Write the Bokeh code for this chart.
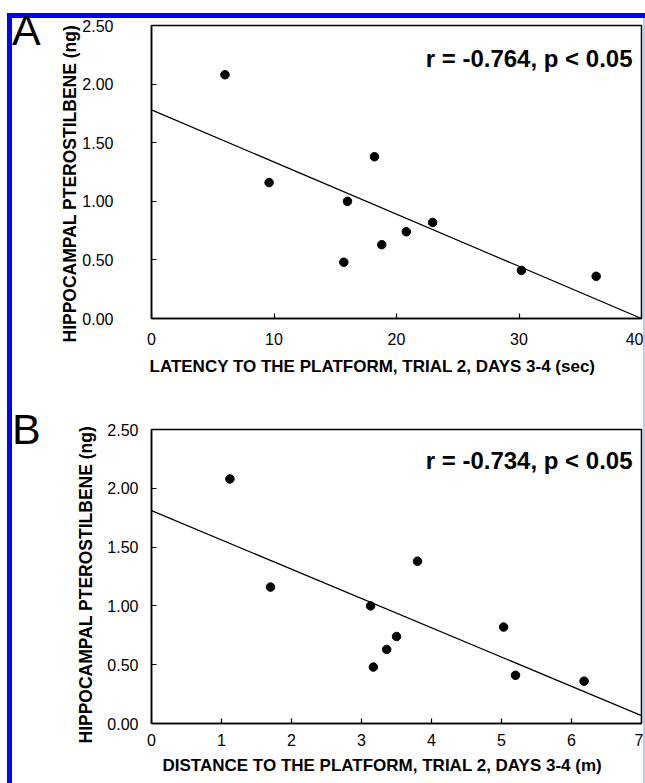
from bokeh.plotting import figure
from bokeh.models import Range1d, FixedTicker, PrintfTickFormatter, Label, Div, Spacer, Title
from bokeh.layouts import column, row
from bokeh.embed import file_html
from bokeh.resources import INLINE

# ---- data ----
latency_sec = [6.0, 9.6, 16.0, 18.2, 15.7, 18.8, 20.8, 22.95, 30.2, 36.3]
distance_m = [1.12, 1.70, 3.13, 3.80, 3.17, 3.36, 3.50, 5.03, 5.20, 6.18]
pterostilbene_ng = [2.08, 1.16, 1.00, 1.38, 0.48, 0.63, 0.74, 0.82, 0.41, 0.36]

fit_a_x = [0, 40]
fit_a_intercept, fit_a_slope = 1.78, -0.0445
fit_b_x = [0, 7]
fit_b_intercept, fit_b_slope = 1.81, -0.249

y_ticks = [0.0, 0.5, 1.0, 1.5, 2.0, 2.5]
x_ticks_a = [0, 10, 20, 30, 40]
x_ticks_b = [0, 1, 2, 3, 4, 5, 6, 7]

y_label = "HIPPOCAMPAL PTEROSTILBENE (ng)"
x_label_a = "LATENCY TO THE PLATFORM, TRIAL 2, DAYS 3-4 (sec)"
x_label_b = "DISTANCE TO THE PLATFORM, TRIAL 2, DAYS 3-4 (m)"
stat_a = "r = -0.764, p < 0.05"
stat_b = "r = -0.734, p < 0.05"

FONT = "Liberation Sans"
BLUE = "#0000ff"
LETTER_W = 40
FIG_W = 591
FRAME_W = 490


def panel(xs, ys, xmax, xticks, fit_x, b0, b1, xlabel, stat, height, top,
          bottom, frame_h, ystand, ylab_stand, ylab_off, xstand, title_off,
          title_stand, stat_off):
    p = figure(width=FIG_W, height=height, output_backend="svg",
               toolbar_location=None, x_range=Range1d(0, xmax),
               y_range=Range1d(0, 2.5), min_border_left=99,
               min_border_right=2, min_border_top=top,
               min_border_bottom=bottom)
    p.xgrid.visible = False
    p.ygrid.visible = False
    p.outline_line_color = "black"
    p.outline_line_width = 1.5
    p.background_fill_color = "white"
    p.border_fill_color = "white"

    for ax in (p.xaxis[0], p.yaxis[0]):
        ax.axis_line_color = "black"
        ax.axis_line_width = 1.5
        ax.major_tick_in = 5
        ax.major_tick_out = 0
        ax.major_tick_line_color = "black"
        ax.major_tick_line_width = 1.2
        ax.minor_tick_line_color = None
        ax.major_label_text_font = FONT
        ax.major_label_text_font_size = "16px"
        ax.major_label_text_color = "black"

    p.xaxis.ticker = FixedTicker(ticks=xticks)
    p.xaxis.major_label_standoff = xstand

    p.yaxis.ticker = FixedTicker(ticks=y_ticks)
    p.yaxis.formatter = PrintfTickFormatter(format="%.2f")
    p.yaxis.major_label_standoff = ystand

    p.add_layout(Title(text=y_label, align="left", offset=ylab_off,
                       standoff=ylab_stand, text_font=FONT,
                       text_font_style="bold", text_font_size="17.5px",
                       text_color="black"), "left")
    p.add_layout(Title(text=xlabel, align="left", offset=title_off,
                       standoff=title_stand, text_font=FONT,
                       text_font_style="bold", text_font_size="17px",
                       text_color="black"), "below")

    fit_y = [b0 + b1 * x for x in fit_x]
    p.line(fit_x, fit_y, line_color="black", line_width=1.2)
    p.scatter(xs, ys, size=8.5, marker="circle", fill_color="black",
              line_color="black")

    p.add_layout(Label(x=FRAME_W - 9, y=frame_h - stat_off,
                       x_units="screen", y_units="screen", text=stat,
                       text_align="right", text_baseline="top",
                       text_font=FONT, text_font_style="bold",
                       text_font_size="24px", text_color="black"))
    return p


pa = panel(latency_sec, pterostilbene_ng, 40, x_ticks_a, fit_a_x,
           fit_a_intercept, fit_a_slope, x_label_a, stat_a,
           382, 7, 82, 293, 38, 0, -24, 14, -2, 14, 19)
pb = panel(distance_m, pterostilbene_ng, 7, x_ticks_b, fit_b_x,
           fit_b_intercept, fit_b_slope, x_label_b, stat_b,
           383, 29, 60, 294, 13, 17, -20, 10, 11, 10, 17)


def letter(txt, pad, shift, h):
    return Div(text=("<div style=\"font-family:'Liberation Sans',Arial,"
                     "sans-serif;font-size:43px;line-height:30px;"
                     f"padding-top:{pad}px;position:relative;top:{shift}px;"
                     f"color:#000\">{txt}</div>"),
               width=LETTER_W, height=h, margin=0)


stripe_left = Div(text="", width=5, height=765, margin=0,
                  styles={"background-color": BLUE})
stripe_right = Div(text="", width=2, height=765, margin=0,
                   styles={"background-color": "#c4c4ff"})
stripe_top = Div(text="", width=638, height=5, margin=0,
                 styles={"background-color": BLUE})

inner = column(row(letter("A", 0, -3, 382), pa, spacing=0),
               row(letter("B", 14, 0, 383), pb, spacing=0), spacing=0)

layout = column(
    Spacer(height=13, width=645, margin=0),
    row(Spacer(width=7, height=770, margin=0),
        column(stripe_top, row(stripe_left, inner, stripe_right, spacing=0),
               spacing=0),
        spacing=0),
    spacing=0)

open("out.html", "w").write(file_html(layout, INLINE))
